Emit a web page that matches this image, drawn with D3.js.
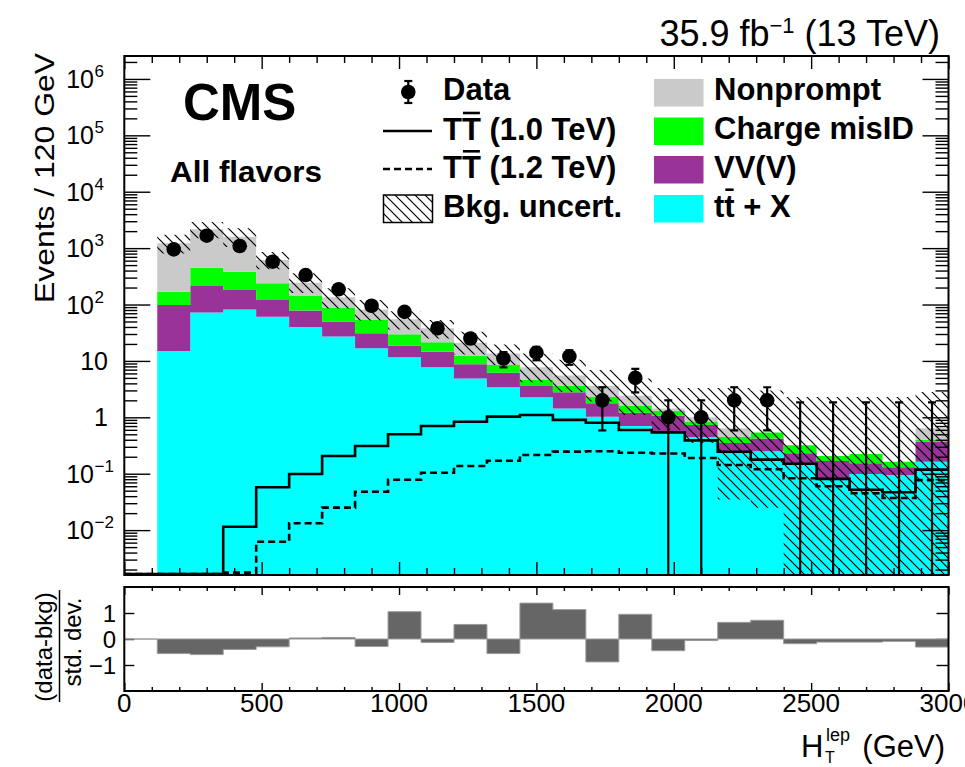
<!DOCTYPE html>
<html>
<head>
<meta charset="utf-8">
<script src="https://cdn.jsdelivr.net/npm/d3@7"></script>
<style>
  html, body { margin: 0; padding: 0; background: #fff; }
  svg { display: block; }
</style>
</head>
<body>
<svg id="chart" width="965" height="767"></svg>
<script>
// ---- H_T^lep distribution, 25 bins of 120 GeV from 0 to 3000 GeV ----
const binEdges = d3.range(0, 3001, 120);

// background processes (events per bin)
const ttX         = [0, 15, 72, 82, 61, 40, 27, 16.7, 11.6, 7.7, 4.9, 3.4, 2.26, 1.44, 1.02, 0.70, 0.53, 0.45, 0.23, 0.25, 0.15, 0.083, 0.099, 0.095, 0.163];
const vvv         = [0, 83, 141, 99, 59, 38, 23, 14.3, 7.0, 6.9, 3.8, 2.8, 1.34, 1.33, 0.75, 0.50, 0.54, 0.28, 0.12, 0.17, 0.08, 0.085, 0.054, 0.035, 0.207];
const chargeMisID = [0, 71, 237, 201, 118, 64, 39, 22, 11, 6.8, 3.5, 2.3, 1.0, 0.83, 0.53, 0.38, 0.24, 0.11, 0.10, 0.12, 0.09, 0.038, 0.071, 0.033, 0.03];
const nonprompt   = [0, 1048, 1705, 1208, 377, 102, 45, 29, 25.4, 16.4, 8.8, 5.1, 3.1, 1.9, 1.3, 0.82, 0.13, 0.16, 0.19, 0, 0, 0, 0, 0, 0.24];

// background uncertainty band edges
const bandHi = [0, 1720, 2900, 2250, 850, 360, 195, 120, 76, 53, 33, 19.5, 13.6, 10.5, 6.9, 4.9, 3.3, 3.3, 3.3, 3.0, 2.3, 2.3, 2.3, 2.3, 2.8];
const bandLo = [0, 800, 1500, 1050, 420, 160, 85, 52, 36, 25, 13, 8.5, 4.2, 2.8, 1.9, 1.1, 0.6, 0.35, 0.035, 0.025, 0, 0, 0, 0, 0];

// signal hypotheses
const signal1000 = [0, 0, 0, 0.0115, 0.0574, 0.0988, 0.206, 0.31, 0.50, 0.70, 0.836, 1.03, 1.1, 0.90, 0.80, 0.596, 0.54, 0.39, 0.245, 0.178, 0.15, 0.081, 0.052, 0.047, 0.118];
const signal1200 = [0, 0, 0, 0.00176, 0.0062, 0.0132, 0.025, 0.048, 0.078, 0.104, 0.137, 0.17, 0.215, 0.246, 0.25, 0.236, 0.228, 0.19, 0.143, 0.12, 0.083, 0.06, 0.045, 0.037, 0.077];

// observed events (null = no point drawn)
const observed = [null, 950, 1660, 1090, 575, 333, 186, 95, 74, 38, 25, 11, 14, 12, 2, 5, 1, 1, 2, 2, 0, 0, 0, 0, 0];

// pull: (data - bkg) / std. dev.
const pull = [0, -0.56, -0.6, -0.4, -0.3, 0.04, 0.06, -0.29, 1.05, -0.13, 0.56, -0.56, 1.38, 1.13, -0.88, 0.95, -0.45, -0.06, 0.64, 0.72, -0.18, -0.12, -0.12, -0.09, -0.31];

// axis ticks
const yTickValues = [1e-2, 1e-1, 1, 10, 1e2, 1e3, 1e4, 1e5, 1e6];
const yTickLabels = ["10^−2", "10^−1", "1", "10", "10^2", "10^3", "10^4", "10^5", "10^6"];
const xTickValues = [0, 500, 1000, 1500, 2000, 2500, 3000];
const pullTickValues = [-1, 0, 1];
const pullTickLabels = ["−1", "0", "1"];

// ---- drawing ----
const FONT = '"Liberation Sans", Arial, Helvetica, sans-serif';
const svg = d3.select("#chart").style("font-family", FONT);

const left = 124.3, right = 948.5;
const mainTop = 56, mainBot = 575;
const pullTop = 587, pullBot = 691;

const x = d3.scaleLinear().domain([0, 3000]).range([left, right]);
const y = d3.scaleLog().domain([0.0016, 2.55e6]).range([mainBot, mainTop]).clamp(true);
const yp = d3.scaleLinear().domain([-2, 2]).range([pullBot, pullTop]);
const yv = v => y(Math.max(v, 1e-9));

const colors = { ttX: "#00ffff", vvv: "#993399", chargeMisID: "#00ff00", nonprompt: "#cacaca" };

const defs = svg.append("defs");
const hatch = defs.append("pattern").attr("id", "hatch")
  .attr("patternUnits", "userSpaceOnUse").attr("width", 10).attr("height", 10);
hatch.append("path").attr("d", "M0,0 L10,10 M-5,5 L5,15 M5,-5 L15,5")
  .attr("stroke", "#000").attr("stroke-width", 1.2).attr("fill", "none");
defs.append("clipPath").attr("id", "clipMain").append("rect")
  .attr("x", left).attr("y", mainTop).attr("width", right - left).attr("height", mainBot - mainTop);
defs.append("clipPath").attr("id", "clipPull").append("rect")
  .attr("x", left).attr("y", pullTop).attr("width", right - left).attr("height", pullBot - pullTop);

// per-bin rows for the stack
const rows = binEdges.slice(0, -1).map((e, i) => ({
  lo: e, hi: binEdges[i + 1],
  ttX: ttX[i], vvv: vvv[i], chargeMisID: chargeMisID[i], nonprompt: nonprompt[i]
}));
const keys = ["ttX", "vvv", "chargeMisID", "nonprompt"];
const stacked = d3.stack().keys(keys)(rows);

// step helper: histogram bins -> points with a closing point at the last edge
function steps(getLo, getHi) {
  const pts = rows.map((r, i) => ({ e: r.lo, a: getLo(i), b: getHi(i) }));
  const last = pts[pts.length - 1];
  pts.push({ e: binEdges[binEdges.length - 1], a: last.a, b: last.b });
  return pts;
}
const stepArea = d3.area().x(d => x(d.e)).y0(d => yv(d.a)).y1(d => yv(d.b)).curve(d3.curveStepAfter);

const main = svg.append("g").attr("clip-path", "url(#clipMain)");

// stacked backgrounds (bins from 120 GeV)
stacked.forEach(layer => {
  const pts = steps(i => layer[i][0], i => layer[i][1]).slice(1);
  main.append("path").datum(pts)
    .attr("d", stepArea)
    .attr("fill", colors[layer.key])
    .attr("stroke", "none");
});

// uncertainty band
const bandPts = steps(i => bandLo[i], i => bandHi[i]).slice(1);
main.append("path").datum(bandPts).attr("d", stepArea)
  .attr("fill", "url(#hatch)").attr("stroke", "none");

// signal curves
const stepLine = d3.line().x(d => x(d.e)).y(d => Math.min(yv(d.b), mainBot - 1)).curve(d3.curveStepAfter);
main.append("path").datum(steps(i => 0, i => signal1000[i]))
  .attr("d", stepLine).attr("fill", "none").attr("stroke", "#000").attr("stroke-width", 2.6);
main.append("path").datum(steps(i => 0, i => signal1200[i]))
  .attr("d", stepLine).attr("fill", "none").attr("stroke", "#000").attr("stroke-width", 2.6)
  .attr("stroke-dasharray", "7,4");

// observed data with sqrt(N) errors (upper 1.84 for empty bins)
const dataPts = observed.map((n, i) => n === null ? null : ({
  xc: (binEdges[i] + binEdges[i + 1]) / 2,
  n: n,
  up: n > 0 ? n + Math.sqrt(n) : 1.84,
  dn: n > 0 ? n - Math.sqrt(n) : 0
})).filter(d => d);

const dg = main.append("g");
dg.selectAll("line.err").data(dataPts).join("line").attr("class", "err")
  .attr("x1", d => x(d.xc)).attr("x2", d => x(d.xc))
  .attr("y1", d => yv(d.up)).attr("y2", d => yv(d.dn))
  .attr("stroke", "#000").attr("stroke-width", 2.2);
dg.selectAll("line.capU").data(dataPts).join("line").attr("class", "capU")
  .attr("x1", d => x(d.xc) - 4).attr("x2", d => x(d.xc) + 4)
  .attr("y1", d => yv(d.up)).attr("y2", d => yv(d.up))
  .attr("stroke", "#000").attr("stroke-width", 2.2);
dg.selectAll("line.capD").data(dataPts.filter(d => d.dn > 0)).join("line").attr("class", "capD")
  .attr("x1", d => x(d.xc) - 4).attr("x2", d => x(d.xc) + 4)
  .attr("y1", d => yv(d.dn)).attr("y2", d => yv(d.dn))
  .attr("stroke", "#000").attr("stroke-width", 2.2);
dg.selectAll("circle").data(dataPts.filter(d => d.n > 0)).join("circle")
  .attr("cx", d => x(d.xc)).attr("cy", d => yv(d.n)).attr("r", 7.3).attr("fill", "#000");

// ---- main frame axes ----
const allLogTicks = [];
for (let p = -3; p <= 6; p++) for (let k = 1; k <= 9; k++) {
  const v = k * Math.pow(10, p);
  if (v >= 0.0016 && v <= 2.55e6) allLogTicks.push(v);
}
const minorLog = allLogTicks.filter(v => Math.abs(Math.log10(v) - Math.round(Math.log10(v))) > 1e-9);
const majorLog = allLogTicks.filter(v => Math.abs(Math.log10(v) - Math.round(Math.log10(v))) <= 1e-9);

function styleAxis(g) {
  g.select(".domain").remove();
  g.selectAll(".tick line").attr("stroke", "#000").attr("stroke-width", 1.4);
  g.selectAll(".tick text").remove();
}
svg.append("g").attr("transform", `translate(${left},0)`)
  .call(d3.axisLeft(y).tickValues(minorLog).tickSize(-13).tickFormat("")).call(styleAxis);
svg.append("g").attr("transform", `translate(${left},0)`)
  .call(d3.axisLeft(y).tickValues(majorLog).tickSize(-26).tickFormat("")).call(styleAxis);
svg.append("g").attr("transform", `translate(${right},0)`)
  .call(d3.axisRight(y).tickValues(minorLog).tickSize(-13).tickFormat("")).call(styleAxis);
svg.append("g").attr("transform", `translate(${right},0)`)
  .call(d3.axisRight(y).tickValues(majorLog).tickSize(-26).tickFormat("")).call(styleAxis);

const xMinor = d3.range(0, 3001, 100).filter(v => v % 500 !== 0);
const xMajor = d3.range(0, 3001, 500);
[[mainBot, d3.axisBottom, 7, 13], [mainTop, d3.axisTop, 7, 13],
 [pullBot, d3.axisBottom, 4, 8], [pullTop, d3.axisTop, 4, 8]].forEach(([yy, ax, mn, mj]) => {
  svg.append("g").attr("transform", `translate(0,${yy})`)
    .call(ax(x).tickValues(xMinor).tickSize(-mn).tickFormat("")).call(styleAxis);
  svg.append("g").attr("transform", `translate(0,${yy})`)
    .call(ax(x).tickValues(xMajor).tickSize(-mj).tickFormat("")).call(styleAxis);
});

svg.append("g").attr("transform", `translate(${left},0)`)
  .call(d3.axisLeft(yp).tickValues(pullTickValues).tickSize(-10).tickFormat("")).call(styleAxis);
svg.append("g").attr("transform", `translate(${right},0)`)
  .call(d3.axisRight(yp).tickValues(pullTickValues).tickSize(-12).tickFormat("")).call(styleAxis);

// y tick labels with exponents
const yLab = svg.append("g").attr("font-size", 25).attr("fill", "#000");
yTickValues.forEach((v, i) => {
  const parts = yTickLabels[i].split("^");
  const ty = y(v) + 9;
  if (parts.length === 1) {
    yLab.append("text").attr("x", 108).attr("y", ty).attr("text-anchor", "end").text(parts[0]);
  } else {
    yLab.append("text").attr("x", 94).attr("y", ty).attr("text-anchor", "end").text(parts[0]);
    yLab.append("text").attr("x", 94.5).attr("y", ty - 11).attr("font-size", 17).text(parts[1]);
  }
});

// pull panel
const pullG = svg.append("g").attr("clip-path", "url(#clipPull)");
const pullPts = steps(i => 0, i => pull[i]);
pullG.append("path").datum(pullPts)
  .attr("d", d3.area().x(d => x(d.e)).y0(yp(0)).y1(d => yp(d.b)).curve(d3.curveStepAfter))
  .attr("fill", "#666666").attr("stroke", "#9a9a9a").attr("stroke-width", 1);

const pLab = svg.append("g").attr("font-size", 24);
pullTickValues.forEach((v, i) => {
  pLab.append("text").attr("x", 116).attr("y", yp(v) + 8.5).attr("text-anchor", "end").text(pullTickLabels[i]);
});
const xLab = svg.append("g").attr("font-size", 26).attr("text-anchor", "middle");
xTickValues.forEach(v => {
  xLab.append("text").attr("x", x(v)).attr("y", 712).text(v);
});

// frames
svg.append("rect").attr("x", left).attr("y", mainTop).attr("width", right - left).attr("height", mainBot - mainTop)
  .attr("fill", "none").attr("stroke", "#000").attr("stroke-width", 2);
svg.append("rect").attr("x", left).attr("y", pullTop).attr("width", right - left).attr("height", pullBot - pullTop)
  .attr("fill", "none").attr("stroke", "#000").attr("stroke-width", 2);

// axis titles
svg.append("text").attr("transform", "translate(54,53) rotate(-90)")
  .attr("text-anchor", "end").attr("font-size", 28).attr("textLength", 250).attr("lengthAdjust", "spacingAndGlyphs")
  .text("Events / 120 GeV");

svg.append("text").attr("transform", "translate(52,647) rotate(-90)")
  .attr("text-anchor", "middle").attr("font-size", 24).text("(data-bkg)");
svg.append("text").attr("transform", "translate(81,642) rotate(-90)")
  .attr("text-anchor", "middle").attr("font-size", 24).text("std. dev.");
svg.append("line").attr("x1", 59.5).attr("x2", 59.5).attr("y1", 590).attr("y2", 702)
  .attr("stroke", "#000").attr("stroke-width", 1.5);

const xt = svg.append("g").attr("font-size", 31);
xt.append("text").attr("x", 801).attr("y", 757).text("H");
xt.append("text").attr("x", 825).attr("y", 763).attr("font-size", 16).text("T");
xt.append("text").attr("x", 826).attr("y", 741).attr("font-size", 18).text("lep");
xt.append("text").attr("x", 945).attr("y", 757).attr("text-anchor", "end").text("(GeV)");

// luminosity label
const lumi = svg.append("text").attr("x", 940).attr("y", 46).attr("text-anchor", "end").attr("font-size", 36);
lumi.append("tspan").text("35.9 fb");
lumi.append("tspan").attr("font-size", 22).attr("dy", -13).text("−1");
lumi.append("tspan").attr("dy", 13).text(" (13 TeV)");

// experiment labels
svg.append("text").attr("x", 183).attr("y", 120).attr("font-size", 51).attr("font-weight", "bold").text("CMS");
svg.append("text").attr("x", 170).attr("y", 182).attr("font-size", 30).attr("font-weight", "bold")
  .attr("textLength", 152).attr("lengthAdjust", "spacingAndGlyphs").text("All flavors");

// ---- legend ----
const lg = svg.append("g").attr("font-size", 31).attr("font-weight", "bold");
// data entry
lg.append("line").attr("x1", 408.3).attr("x2", 408.3).attr("y1", 81).attr("y2", 103).attr("stroke", "#000").attr("stroke-width", 2.2);
lg.append("line").attr("x1", 404.3).attr("x2", 412.3).attr("y1", 81).attr("y2", 81).attr("stroke", "#000").attr("stroke-width", 2.2);
lg.append("line").attr("x1", 404.3).attr("x2", 412.3).attr("y1", 103).attr("y2", 103).attr("stroke", "#000").attr("stroke-width", 2.2);
lg.append("circle").attr("cx", 408.3).attr("cy", 92).attr("r", 7.3).attr("fill", "#000");
lg.append("text").attr("x", 443).attr("y", 100).text("Data");
// signal entries
lg.append("line").attr("x1", 383).attr("x2", 432).attr("y1", 131).attr("y2", 131).attr("stroke", "#000").attr("stroke-width", 2.6);
lg.append("line").attr("x1", 383).attr("x2", 432).attr("y1", 169).attr("y2", 169).attr("stroke", "#000").attr("stroke-width", 2.6).attr("stroke-dasharray", "7,4");
function barredText(xx, yy, str, barIdx) {
  const t = lg.append("text").attr("x", xx).attr("y", yy).text(str);
  const node = t.node();
  const x0 = node.getStartPositionOfChar(barIdx).x;
  const x1 = node.getEndPositionOfChar(barIdx).x;
  lg.append("line").attr("x1", x0 + 1).attr("x2", x1 - 1).attr("y1", yy - 27).attr("y2", yy - 27)
    .attr("stroke", "#000").attr("stroke-width", 2.6);
  return t;
}
barredText(443, 140, "TT (1.0 TeV)", 1);
barredText(443, 178.3, "TT (1.2 TeV)", 1);
// uncertainty entry
lg.append("rect").attr("x", 383.5).attr("y", 195).attr("width", 49).attr("height", 27.5)
  .attr("fill", "url(#hatch)").attr("stroke", "#000").attr("stroke-width", 1.5);
lg.append("text").attr("x", 443).attr("y", 216.7).text("Bkg. uncert.");

// background entries
const bkgLegend = [
  { key: "nonprompt", label: "Nonprompt", y0: 79 },
  { key: "chargeMisID", label: "Charge misID", y0: 117.5 },
  { key: "vvv", label: "VV(V)", y0: 156 },
  { key: "ttX", label: "tt + X", y0: 195 }
];
bkgLegend.forEach(d => {
  lg.append("rect").attr("x", 654).attr("y", d.y0).attr("width", 49.5).attr("height", 27.5).attr("fill", colors[d.key]);
});
lg.append("text").attr("x", 714).attr("y", 99.5).text("Nonprompt");
lg.append("text").attr("x", 714).attr("y", 139.3).text("Charge misID");
lg.append("text").attr("x", 714).attr("y", 178.3).text("VV(V)");
barredText(714, 216.7, "tt + X", 1);
</script>
</body>
</html>
